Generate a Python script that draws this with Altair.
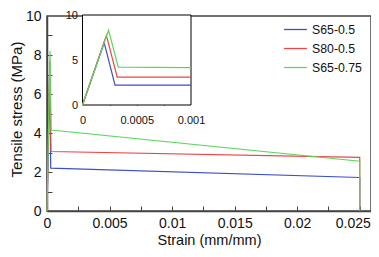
import altair as alt
import pandas as pd

FONT = "Liberation Sans"

series = ["S65-0.5", "S80-0.5", "S65-0.75"]
colors = ["#3c4fc4", "#f04444", "#5cd65c"]

s65_05_strain = [0, 0.0002, 0.0003, 0.025, 0.025]
s65_05_stress = [0, 6.9, 2.2, 1.72, 0]
s80_05_strain = [0, 0.00022, 0.00032, 0.025, 0.025]
s80_05_stress = [0, 7.7, 3.05, 2.75, 0]
s65_075_strain = [0, 0.00024, 0.00033, 0.025, 0.025]
s65_075_stress = [0, 8.2, 4.15, 2.55, 0]

in_s65_05_strain = [0, 0.0002, 0.0003, 0.001]
in_s65_05_stress = [0, 6.9, 2.2, 2.2]
in_s80_05_strain = [0, 0.00022, 0.00032, 0.001]
in_s80_05_stress = [0, 7.75, 3.1, 3.1]
in_s65_075_strain = [0, 0.00024, 0.00033, 0.001]
in_s65_075_stress = [0, 8.3, 4.2, 4.15]

x_ticks = [0, 0.0025, 0.005, 0.0075, 0.01, 0.0125, 0.015, 0.0175, 0.02, 0.0225, 0.025]
x_labels = [0, 0.005, 0.01, 0.015, 0.02, 0.025]
y_ticks = [1, 2, 3, 4, 5, 6, 7, 8, 9]
y_labels = [0, 2, 4, 6, 8, 10]
in_x_ticks = [0.00025, 0.0005, 0.00075]
in_x_labels = [0, 0.0005, 0.001]
in_y_ticks = [2.5, 5, 7.5]
in_y_labels = [0, 5, 10]
in_box_x = [0, 0.001]
in_box_y = [0, 10]


def frame(strains, stresses):
    rows = []
    for name, xs, ys in zip(series, strains, stresses):
        for i, (a, b) in enumerate(zip(xs, ys)):
            rows.append({"series": name, "strain": a, "stress": b, "order": i})
    return pd.DataFrame(rows)


main_df = frame([s65_05_strain, s80_05_strain, s65_075_strain],
                [s65_05_stress, s80_05_stress, s65_075_stress])
inset_df = frame([in_s65_05_strain, in_s80_05_strain, in_s65_075_strain],
                 [in_s65_05_stress, in_s80_05_stress, in_s65_075_stress])
box_df = pd.DataFrame({"x": [in_box_x[0]], "x2": [in_box_x[1]],
                       "y": [in_box_y[0]], "y2": [in_box_y[1]]})

W, H = 324, 195
xs_main = alt.Scale(domain=[0, 0.0259], nice=False, zero=False)
ys_main = alt.Scale(domain=[0, 10], nice=False)
xs_in = alt.Scale(domain=[0, 0.001], range=[35.5, 144], nice=False, zero=False)
ys_in = alt.Scale(domain=[0, 10], range=[89, -1], nice=False)

color = alt.Color("series:N", scale=alt.Scale(domain=series, range=colors),
                  legend=alt.Legend(title=None, orient="none", legendX=236, legendY=1,
                                    symbolType="stroke", symbolSize=520,
                                    symbolStrokeWidth=1.3, labelFontSize=12.3,
                                    labelFont=FONT, labelColor="#111",
                                    labelOffset=4, padding=0, rowPadding=-6))

GRAY = "#444"

main_lines = alt.Chart(main_df).mark_line(strokeWidth=1.2).encode(
    x=alt.X("strain:Q", scale=xs_main, title="Strain (mm/mm)",
            axis=alt.Axis(orient="bottom", values=x_labels, format="~g", tickSize=0,
                          labelFontSize=14, labelPadding=5, labelColor="#111",
                          labelFlush=False, labelOverlap=False,
                          labelOffset={"condition": {"test": "datum.value >= 0.025", "value": -7},
                                       "value": 0},
                          domainColor=GRAY, domainWidth=1.5, grid=False,
                          titleFontSize=14.5, titleFontWeight="normal",
                          titleX=162, titleY=29, titleBaseline="middle",
                          titleColor="#111", labelFont=FONT, titleFont=FONT)),
    y=alt.Y("stress:Q", scale=ys_main, title="Tensile  stress (MPa)",
            axis=alt.Axis(orient="left", values=y_labels, tickSize=0,
                          labelFontSize=14, labelPadding=6, labelColor="#111",
                          labelFlush=False, labelOverlap=False,
                          domainColor=GRAY, domainWidth=1.5, grid=False,
                          titleFontSize=15, titleFontWeight="normal",
                          titleX=-31, titleY=93, titleBaseline="middle",
                          titleAngle=270,
                          titleColor="#111", labelFont=FONT, titleFont=FONT)),
    color=color,
    order="order:Q",
)

main_ticks = alt.Chart(main_df).mark_line(opacity=0).encode(
    x=alt.X("strain:Q", scale=xs_main, title=None,
            axis=alt.Axis(orient="bottom", values=x_ticks, labels=False, domain=False,
                          tickSize=5, offset=-5, tickColor=GRAY, tickWidth=1, grid=False)),
    y=alt.Y("stress:Q", scale=ys_main, title=None,
            axis=alt.Axis(orient="left", values=y_ticks, labels=False, domain=False,
                          tickSize=5, offset=-5, tickColor=GRAY, tickWidth=1, grid=False)),
    detail="series:N",
)

main = alt.layer(main_lines, main_ticks).resolve_axis(x="independent", y="independent")

inset_box = alt.Chart(box_df).mark_rect(fill="white", stroke="black", strokeWidth=1).encode(
    x=alt.X("x:Q", scale=xs_in, title=None,
            axis=alt.Axis(orient="bottom", values=in_x_labels, format="~g", tickSize=0,
                          domain=False, offset=-106, labelFontSize=11, labelPadding=9,
                          labelFlush=False, labelOverlap=False,
                          labelColor="#111", labelFont=FONT, grid=False)),
    x2="x2:Q",
    y=alt.Y("y:Q", scale=ys_in, title=None,
            axis=alt.Axis(orient="left", values=in_y_labels, tickSize=0, domain=False,
                          offset=-35.5, labelFontSize=11, labelPadding=5,
                          labelFlush=False, labelOverlap=False,
                          labelColor="#111", labelFont=FONT, grid=False)),
    y2="y2:Q",
)

inset_lines = alt.Chart(inset_df).mark_line(strokeWidth=1.2).encode(
    x=alt.X("strain:Q", scale=xs_in, title=None,
            axis=alt.Axis(orient="bottom", values=in_x_ticks, labels=False, domain=False,
                          tickSize=4, offset=-110, tickColor="black", grid=False)),
    y=alt.Y("stress:Q", scale=ys_in, title=None,
            axis=alt.Axis(orient="left", values=in_y_ticks, labels=False, domain=False,
                          tickSize=4, offset=-39.5, tickColor="black", grid=False)),
    color=alt.Color("series:N", scale=alt.Scale(domain=series, range=colors), legend=None),
    order="order:Q",
)

inset = alt.layer(inset_box, inset_lines).resolve_axis(x="independent", y="independent")

chart = alt.layer(main, inset).resolve_scale(x="independent", y="independent").properties(
    width=W, height=H,
    autosize=alt.AutoSizeParams(type="none"),
    padding={"left": 39, "top": 8, "right": 0, "bottom": 37},
).configure_view(stroke=GRAY, strokeWidth=1.5)

chart.save("out.html", embed_options={"renderer": "svg", "actions": False})
